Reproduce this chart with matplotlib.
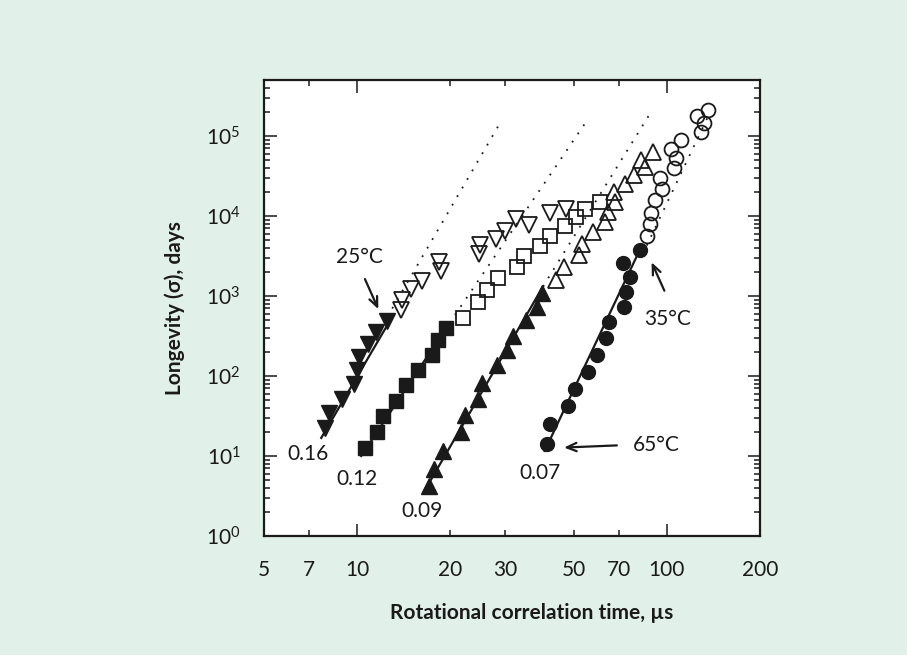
import matplotlib
matplotlib.use("Agg")
from matplotlib import pyplot as plt
from matplotlib.ticker import FixedLocator, FixedFormatter, LogLocator, NullFormatter

plt.rcParams["font.family"] = ["Lato", "DejaVu Sans"]
plt.rcParams["mathtext.default"] = "regular"

# Longevity vs rotational correlation time
# filled = measured at the given temperature, open = extrapolated
tri_dn_x = [7.88, 8.12, 8.96, 9.78, 10.0, 10.15, 10.8, 11.5, 12.5]
tri_dn_y = [22.3, 34.0, 51.7, 78.2, 117, 172, 249, 356, 489]
tri_dn_open_x = [13.85, 14.0, 14.9, 16.2, 18.6, 18.4, 24.8, 25.0, 28.0, 30.1, 32.5, 35.8, 42.0, 47.4]
tri_dn_open_y = [667, 891, 1214, 1557, 2023, 2638, 3376, 4383, 5165, 6440, 9036, 7600, 10750, 12330]

sq_x = [10.6, 11.6, 12.1, 13.3, 14.4, 15.7, 17.4, 18.3, 19.4]
sq_y = [12.6, 20.0, 31.4, 49.2, 77.1, 117, 181, 280, 399]
sq_open_x = [21.9, 24.6, 26.2, 28.4, 32.9, 34.5, 38.8, 41.8, 46.8, 50.9, 54.6, 60.7]
sq_open_y = [524, 848, 1200, 1670, 2316, 3185, 4255, 5686, 7380, 9570, 12210, 14920]

tri_up_x = [17.1, 17.75, 18.9, 21.7, 22.3, 24.6, 25.3, 28.2, 30.5, 31.8, 35.2, 38.0, 39.4]
tri_up_y = [4.2, 6.96, 11.7, 20.0, 32.8, 51.7, 82.8, 136, 211, 316, 495, 727, 1081]
tri_up_open_x = [43.7, 46.5, 52.1, 53.3, 57.6, 63.0, 64.6, 67.9, 67.5, 73.4, 78.2, 84.9, 82.4, 90.3]
tri_up_open_y = [1589, 2296, 3280, 4510, 6290, 8450, 11300, 14790, 19770, 25290, 32300, 40370, 50350, 62370]

circ_x = [40.9, 42.0, 47.9, 50.5, 55.6, 59.5, 63.5, 65.2, 72.9, 73.8, 76.2, 72.4, 81.8]
circ_y = [14.0, 25.0, 41.6, 69.6, 112, 181, 301, 475, 727, 1132, 1749, 2578, 3758]
circ_open_x = [86.0, 88.3, 88.9, 91.5, 96.7, 94.9, 105.4, 106.8, 103.2, 110.7, 129.1, 131.8, 125.5, 135.7]
circ_open_y = [5570, 7820, 10970, 15750, 21980, 29800, 39570, 53200, 69200, 88300, 112300, 146600, 175900, 213600]

# fitted lines (solid) and their extrapolations (dotted)
fit_x = [[7.65, 12.9], [10.3, 19.85], [16.47, 39.8], [40.3, 82.8]]
fit_y = [[16.8, 529], [10.0, 457], [3.63, 1309], [11.56, 4170]]
ext_x = [[12.5, 29.2], [19.85, 54.3], [39.8, 89.4], [86.1, 135.7]]
ext_y = [[544, 154500], [457, 141600], [1309, 206300], [4255, 173400]]

# slopes written next to each line
slope_labels = ["0.16", "0.12", "0.09", "0.07"]
slope_x = [6.94, 10.0, 16.2, 38.8]
slope_y = [10.6, 5.21, 2.03, 6.17]

x_major = [10, 100]
x_minor = [5, 7, 20, 30, 50, 70, 200]
y_major = [1, 10, 100, 1e3, 1e4, 1e5]
y_labels = ["10$^{%d}$" % i for i in range(6)]

bg = "#e2f0ea"
ink = "#1a1a1a"
fig = plt.figure(figsize=(9.07, 6.55), dpi=100, facecolor=bg)
ax = fig.add_axes([0.2911, 0.1817, 0.5469, 0.6962])
ax.set_xscale("log")
ax.set_yscale("log")

for xs, ys in zip(fit_x, fit_y):
    ax.plot(xs, ys, "-", color=ink, lw=1.6, zorder=2)
for xs, ys in zip(ext_x, ext_y):
    ax.plot(xs, ys, color=ink, lw=1.3, linestyle=(0, (1, 4.5)), zorder=2)

filled = dict(color=ink, linestyle="none", zorder=3)
hollow = dict(color=ink, mfc="none", mew=1.3, linestyle="none", zorder=3)
ax.plot(tri_dn_x, tri_dn_y, "v", ms=11, **filled)
ax.plot(tri_dn_open_x, tri_dn_open_y, "v", ms=11, **hollow)
ax.plot(sq_x, sq_y, "s", ms=9.5, **filled)
ax.plot(sq_open_x, sq_open_y, "s", ms=9.5, **hollow)
ax.plot(tri_up_x, tri_up_y, "^", ms=11, **filled)
ax.plot(tri_up_open_x, tri_up_open_y, "^", ms=11, **hollow)
ax.plot(circ_x, circ_y, "o", ms=10, **filled)
ax.plot(circ_open_x, circ_open_y, "o", ms=10, **hollow)

for lab, x, y in zip(slope_labels, slope_x, slope_y):
    ax.text(x, y, lab, fontsize=15, ha="center", va="center", color=ink)

arrow = dict(arrowstyle="->,head_length=0.7,head_width=0.3", color=ink, lw=1.6)
ax.text(10.2, 3097, "25°C", fontsize=15, ha="center", va="center", color=ink)
ax.annotate("", xy=(11.8, 635), xytext=(10.5, 1750), arrowprops=arrow)
ax.text(100.7, 518, "35°C", fontsize=15, ha="center", va="center", color=ink)
ax.annotate("", xy=(88.5, 2837), xytext=(99.0, 1081), arrowprops=arrow)
ax.text(92.6, 13.8, "65°C", fontsize=15, ha="center", va="center", color=ink)
ax.annotate("", xy=(45.6, 12.7), xytext=(70.4, 13.6), arrowprops=arrow)

ax.set_xlim(5, 200)
ax.set_ylim(1, 5e5)

ax.xaxis.set_major_locator(FixedLocator(x_major))
ax.xaxis.set_major_formatter(FixedFormatter([str(v) for v in x_major]))
ax.xaxis.set_minor_locator(FixedLocator(x_minor))
ax.xaxis.set_minor_formatter(FixedFormatter([str(v) for v in x_minor]))
ax.yaxis.set_major_locator(FixedLocator(y_major))
ax.yaxis.set_major_formatter(FixedFormatter(y_labels))
ax.yaxis.set_minor_locator(LogLocator(base=10, subs=range(2, 10)))
ax.yaxis.set_minor_formatter(NullFormatter())

ax.tick_params(which="both", direction="in", top=True, right=True,
               labelsize=15, pad=17, colors=ink, width=1.1)
ax.tick_params(which="major", length=9)
ax.tick_params(which="minor", length=4.5)
for sp in ax.spines.values():
    sp.set_linewidth(1.6)
    sp.set_color(ink)

ax.set_xlabel("Rotational correlation time, µs", fontsize=15, fontweight="bold", color=ink)
ax.xaxis.set_label_coords(0.54, -0.146)
ax.set_ylabel("Longevity (σ), days", fontsize=15, fontweight="bold", color=ink)
ax.yaxis.set_label_coords(-0.16, 0.5)

plt.savefig("out.png", dpi=100, facecolor=bg)
